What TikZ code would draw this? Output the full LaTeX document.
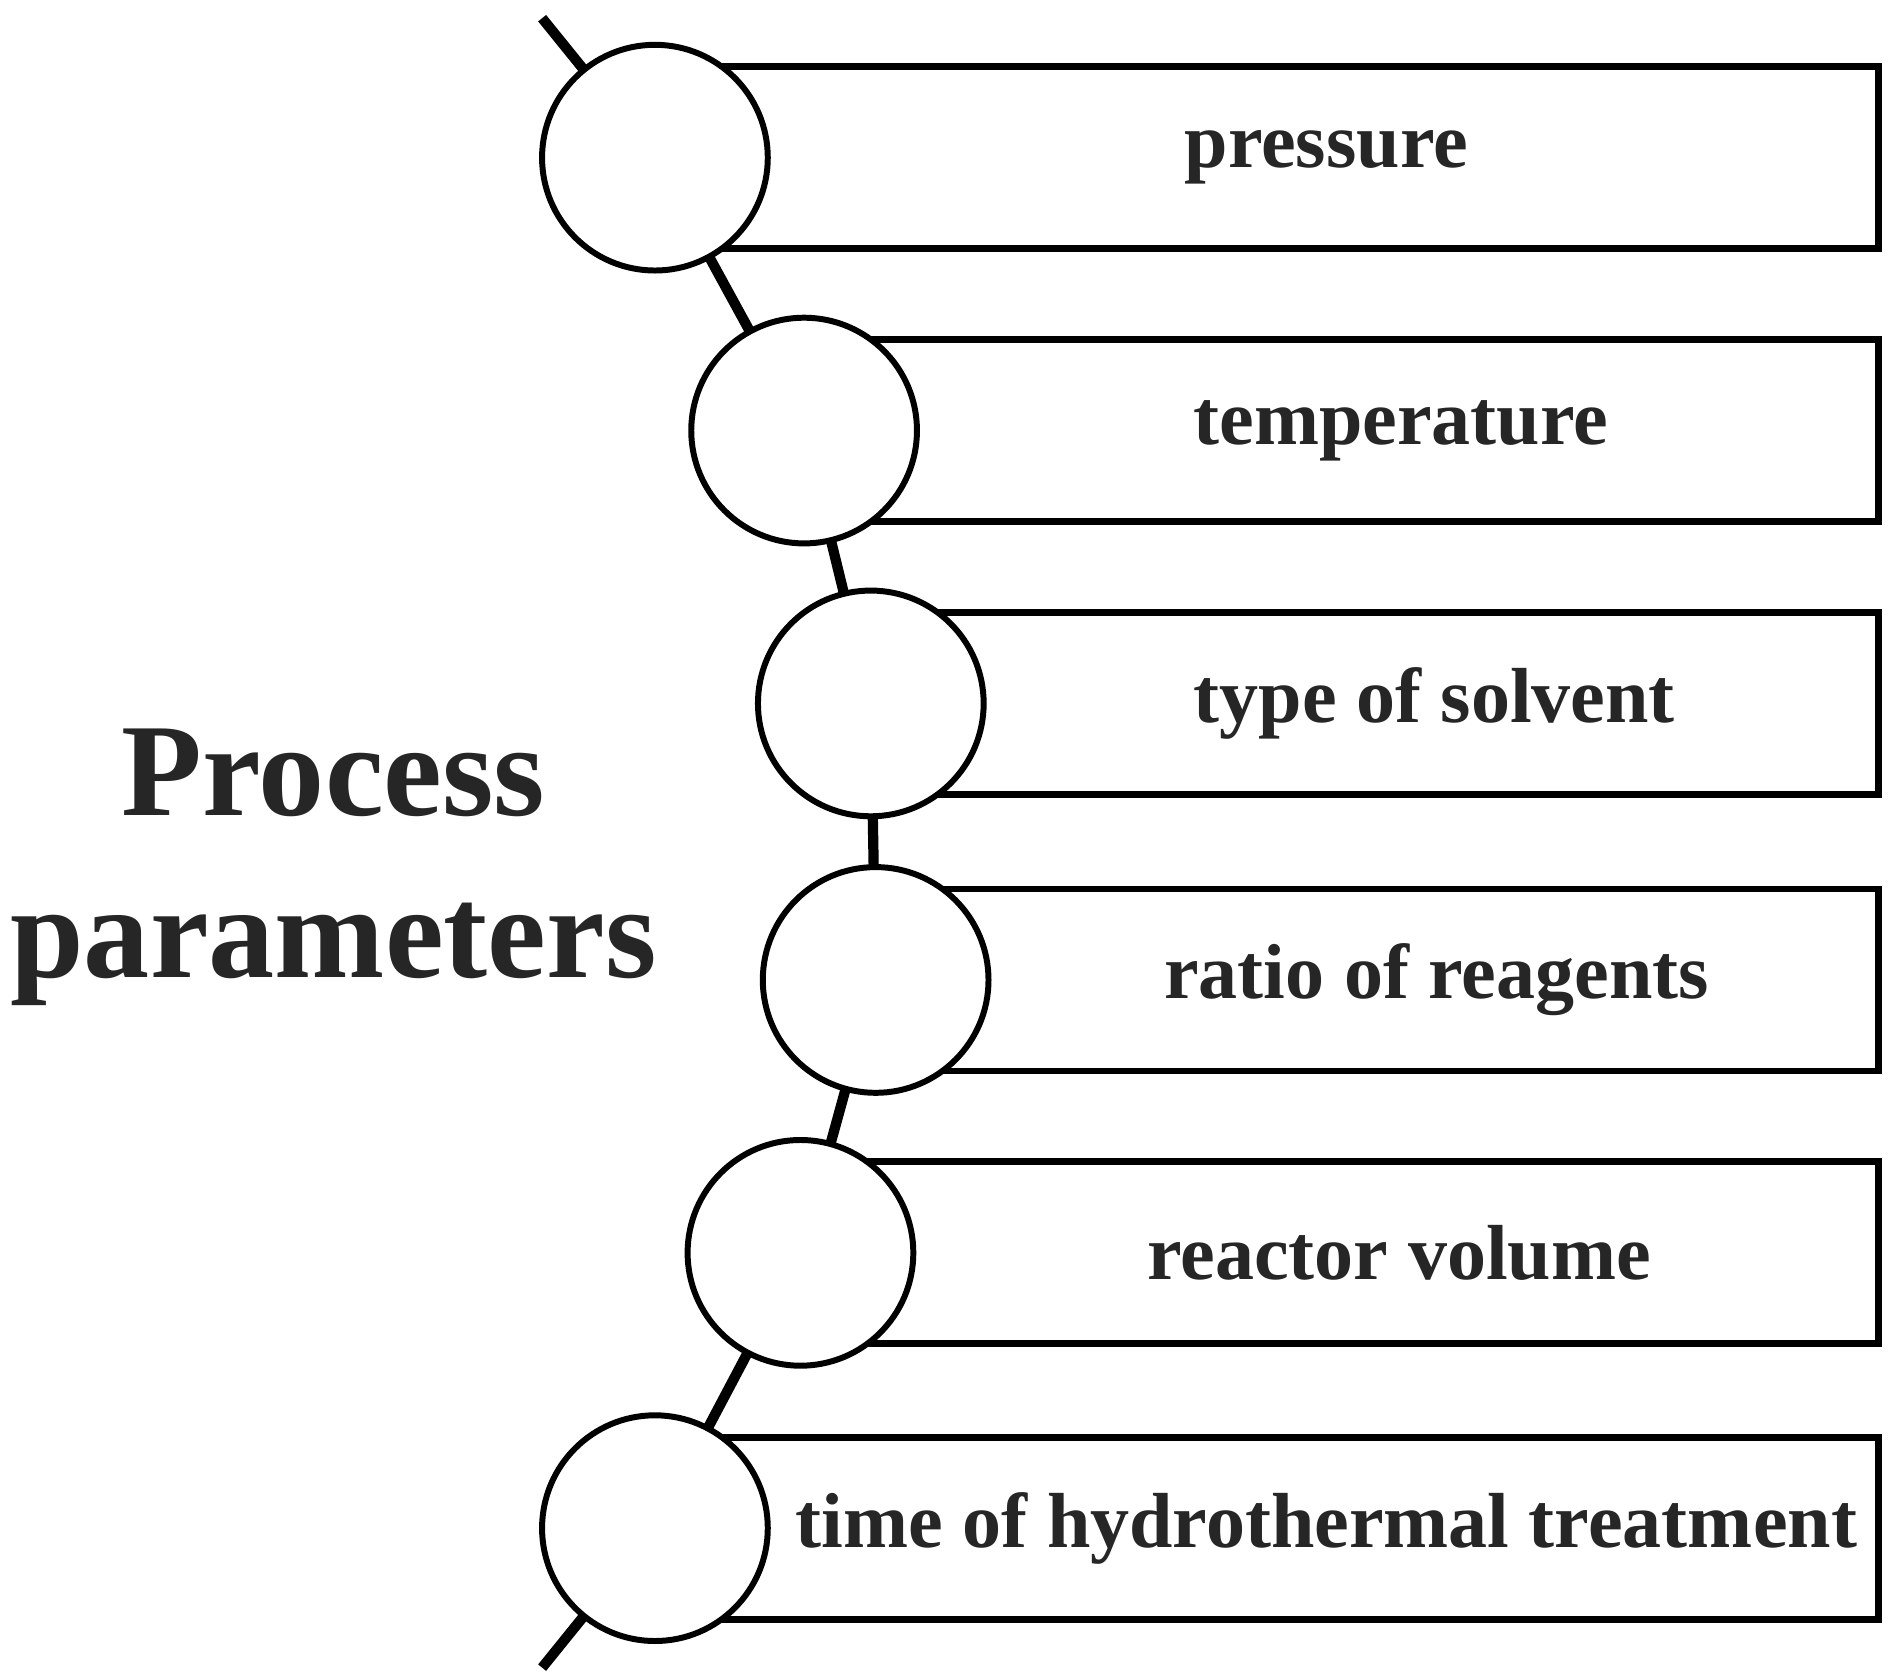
\documentclass[tikz,border=0pt]{standalone}
\usepackage{fontspec}
\setmainfont{Liberation Serif}
\begin{document}
\begin{tikzpicture}[x=0.01cm,y=-0.01cm,
    knot/.style={circle, draw, line width=1.4pt, fill=white, minimum size=1.86cm, inner sep=0pt},
    param/.style={draw, line width=1.6pt, minimum height=1.5cm, inner sep=0pt},
    label/.style={font=\fontsize{18.3}{21}\selectfont\bfseries, text=black!85}]
    \useasboundingbox (0,0) rectangle (1560,1385);

    \coordinate (top) at (447,15);
    \coordinate (bot) at (447,1375);

    % boxes first, then the knots over them
    \foreach \i/\x/\y in {1/540/130, 2/663/355, 3/718/580, 4/722/808, 5/660/1033, 6/540/1260} {
        \coordinate (c\i) at (\x,\y);
        \node[param, minimum width={(1546-\x)*0.01cm}, anchor=west] (b\i) at (\x,\y) {};
    }

    \draw[line width=2.4pt] (top) -- (c1) -- (c2) -- (c3) -- (c4) -- (c5) -- (c6) -- (bot);

    \foreach \i/\txt in {1/pressure, 2/temperature, 3/type of solvent,
        4/ratio of reagents, 5/reactor volume, 6/time of hydrothermal treatment} {
        \node[knot] (k\i) at (c\i) {};
        \path (k\i.east) -- (b\i.east) node[midway, label] (t\i) {\txt};
    }

    \node[font=\fontsize{31}{38}\selectfont\bfseries, text=black!85, align=center] (title) at (275,715) {Process\\parameters};
\end{tikzpicture}
\end{document}
